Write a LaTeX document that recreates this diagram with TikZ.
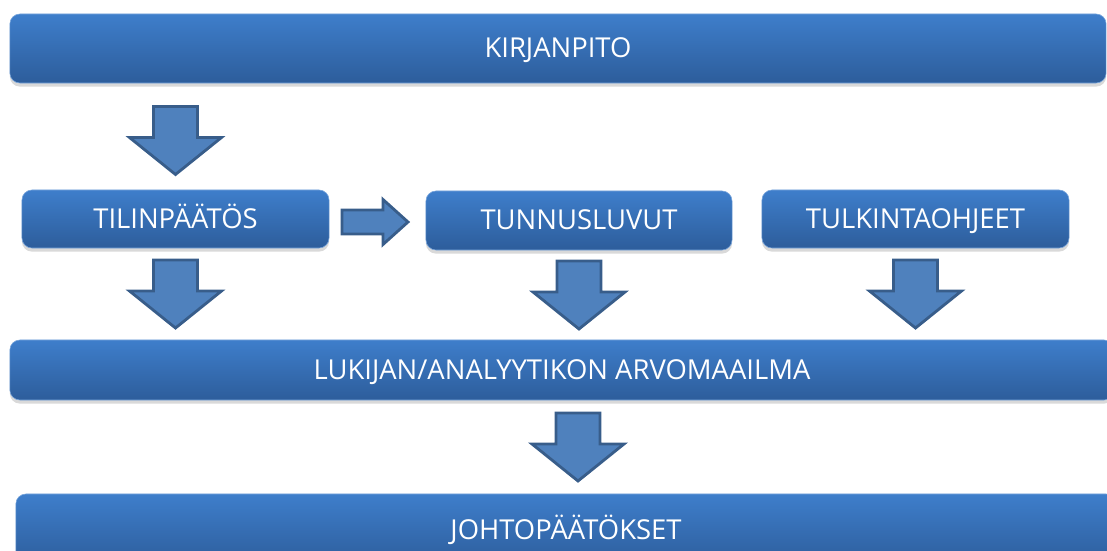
\documentclass[tikz,border=0pt]{standalone}
\usepackage{fontspec}
\setmainfont{Open Sans}
\usetikzlibrary{calc,shadows}
\definecolor{bartop}{RGB}{62,126,203}
\definecolor{barbottom}{RGB}{45,93,155}
\definecolor{arrfill}{RGB}{79,129,189}
\definecolor{arrdraw}{RGB}{56,93,138}
\tikzset{
    bar/.style={rounded corners=0.25cm, top color=bartop, bottom color=barbottom,
        draw=bartop!70!white, line width=0.4pt, text=white, align=center,
        font=\fontsize{19.5}{22}\selectfont, text height=1.3em, text depth=0pt,
        drop shadow={opacity=0.3, shadow xshift=0pt, shadow yshift=-0.09cm}},
    blockarr/.style={fill=arrfill, draw=arrdraw, line width=2pt, line join=miter},
    downarr/.pic={\draw[blockarr] (-22,-34) -- (22,-34) -- (22,-3) -- (46,-3)
        -- (0,34) -- (-46,-3) -- (-22,-3) -- cycle;},
    rightarr/.pic={\draw[blockarr] (-33,-12) -- (8,-12) -- (8,-22.5) -- (33,0)
        -- (8,22.5) -- (8,12) -- (-33,12) -- cycle;}
}

\begin{document}
\begin{tikzpicture}[x=0.025cm, y=-0.025cm]
    \useasboundingbox (0,0) rectangle (1107,551);
    \clip (0,0) rectangle (1107,551);
    \node[bar, minimum width=27.4cm, minimum height=1.725cm] (kirj) at (558, 48.5) {KIRJANPITO};
    \node[bar, minimum width=7.675cm, minimum height=1.45cm] (tilin) at (175.5, 219) {TILINPÄÄTÖS};
    \node[bar, minimum width=7.65cm, minimum height=1.475cm] (tunn) at (579, 220.5) {TUNNUSLUVUT};
    \node[bar, minimum width=7.675cm, minimum height=1.45cm] (tulk) at (915.5, 219) {TULKINTAOHJEET};
    \node[bar, minimum width=27.6cm, minimum height=1.5cm] (luk) at (562, 370) {LUKIJAN/ANALYYTIKON ARVOMAAILMA};
    \node[bar, minimum width=27.5cm, minimum height=1.8cm] (joht) at (566, 530) {JOHTOPÄÄTÖKSET};

    \coordinate (a1) at ($(tilin.north |- kirj.south)!0.5!(tilin.north) + (0,4)$);
    \coordinate (a2) at ($(tilin.east)!0.5!(tunn.west |- tilin.east) + (-2.5,3)$);
    \coordinate (a3) at ($(tilin.south)!0.5!(tilin.south |- luk.north)$);
    \coordinate (a4) at ($(tunn.south)!0.5!(tunn.south |- luk.north)$);
    \coordinate (a5) at ($(tulk.south)!0.5!(tulk.south |- luk.north)$);
    \coordinate (a6) at ($(luk.south -| joht.north)!0.5!(joht.north) + (12,0)$);

    \pic at (a1) {downarr};
    \pic at (a2) {rightarr};
    \pic at (a3) {downarr};
    \pic at (a4) {downarr};
    \pic at (a5) {downarr};
    \pic at (a6) {downarr};
\end{tikzpicture}
\end{document}
